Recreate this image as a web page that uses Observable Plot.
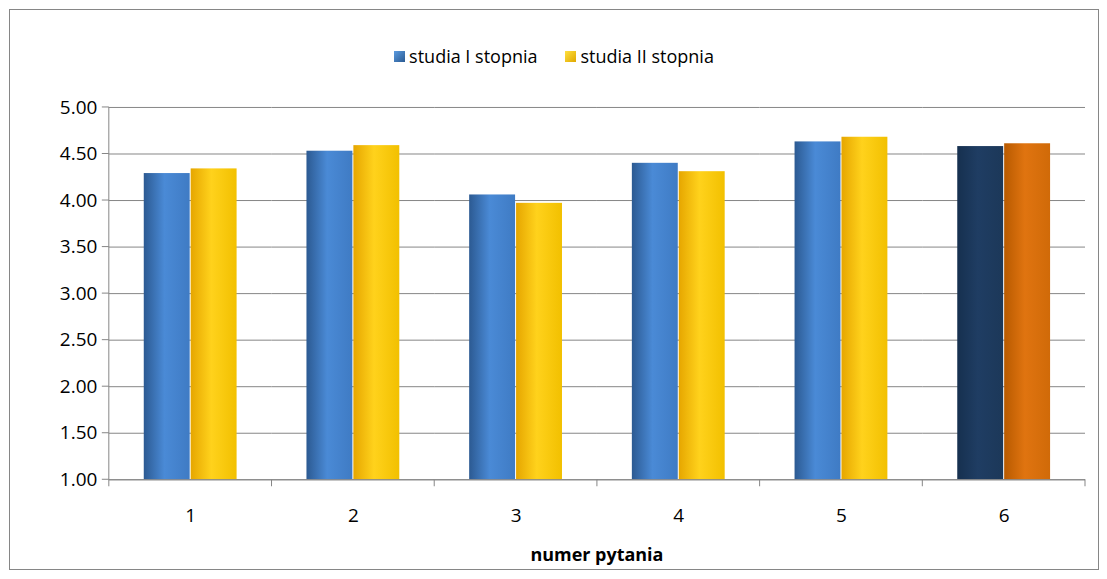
<!DOCTYPE html>
<html><head><meta charset="utf-8">
<script src="https://cdn.jsdelivr.net/npm/d3@7"></script>
<script src="https://cdn.jsdelivr.net/npm/@observablehq/plot@0.6"></script>
<style>
body{margin:0;background:#fff;font-family:"Open Sans",sans-serif;}
#frame{position:absolute;left:9px;top:9px;width:1090px;height:561px;border:1px solid #868686;box-sizing:border-box;}
#legend{position:absolute;top:34px;left:0;width:100%;text-align:center;font-size:18px;color:#000;}
.sw{display:inline-block;width:11px;height:11px;margin-right:4px;vertical-align:1px;}
#chart{position:absolute;left:0;top:80px;}
</style></head><body>
<div id="frame">
<div id="legend"><span class="sw" style="background:linear-gradient(135deg,#5b9be0,#2a5a92)"></span>studia I stopnia<span style="display:inline-block;width:28px"></span><span class="sw" style="background:linear-gradient(135deg,#ffe040,#e0a800)"></span>studia II stopnia</div>
<div id="chart"></div>
</div>
<script>
const questions = ["1","2","3","4","5","6"];
const series = ["studia I stopnia","studia II stopnia"];
const valuesI = [4.29,4.53,4.06,4.40,4.63,4.58];
const valuesII = [4.34,4.59,3.97,4.31,4.68,4.61];
const yTicks = [1,1.5,2,2.5,3,3.5,4,4.5,5];

const data = [];
questions.forEach((q,i)=>{
  data.push({q,s:series[0],v:valuesI[i]});
  data.push({q,s:series[1],v:valuesII[i]});
});
const isLast = d => d.q === questions[questions.length-1];
const common = {fx:"q", x:"s", y1:1, y2:"v"};
const H=480, MB=90, MT=17, ML=99, MR=13;
const plot = Plot.plot({
  width:1090, height:H,
  marginLeft:ML, marginRight:MR, marginTop:MT, marginBottom:MB,
  fx:{domain:questions, padding:0, axis:null},
  x:{domain:series, paddingInner:0.02, paddingOuter:0.74, axis:null},
  y:{domain:[1,5], ticks:yTicks, tickFormat:d=>d.toFixed(2), label:null, tickSize:0, tickPadding:8},
  style:{fontSize:"19px", fontFamily:"'Open Sans',sans-serif", color:"#000"},
  marks:[
    Plot.gridY(yTicks,{stroke:"#868686", strokeOpacity:1}),
    Plot.rectY(data.filter(d=>d.s===series[0]&&!isLast(d)),{...common, fill:"url(#gBlue)"}),
    Plot.rectY(data.filter(d=>d.s===series[1]&&!isLast(d)),{...common, fill:"url(#gYellow)"}),
    Plot.rectY(data.filter(d=>d.s===series[0]&&isLast(d)),{...common, fill:"url(#gNavy)"}),
    Plot.rectY(data.filter(d=>d.s===series[1]&&isLast(d)),{...common, fill:"url(#gOrange)"}),
    Plot.axisFx({anchor:"bottom", tickSize:0, tickPadding:29, label:null, fontSize:19}),
    Plot.ruleY([1],{stroke:"#868686"}),
    Plot.axisY({ticks:yTicks, tickFormat:d=>d.toFixed(2), tickSize:0, tickPadding:12, label:null, fontSize:19})
  ]
});
const ns="http://www.w3.org/2000/svg";
const defs=document.createElementNS(ns,"defs");
function grad(id,a,b,c){return `<linearGradient id="${id}" x1="0" x2="1" y1="0" y2="0"><stop offset="0" stop-color="${a}"/><stop offset="0.45" stop-color="${b}"/><stop offset="1" stop-color="${c}"/></linearGradient>`;}
defs.innerHTML = grad("gBlue","#2c5a92","#4a8ad6","#3f7bc4")+grad("gYellow","#e6a600","#ffd21c","#f2c000")+grad("gNavy","#16304f","#1f3d63","#1c3859")+grad("gOrange","#b85a00","#e07410","#d06a08");
plot.insertBefore(defs, plot.firstChild);
const xs = ML, xe = 1090-MR, yb = H-MB, yt=MT;
const g=document.createElementNS(ns,"g");
let s=`<line x1="${xs}" x2="${xs}" y1="${yt}" y2="${yb}" stroke="#868686"/>`;
for(let i=0;i<=questions.length;i++){const x=xs+(xe-xs)*i/questions.length; s+=`<line x1="${x}" x2="${x}" y1="${yb}" y2="${yb+7}" stroke="#868686"/>`;}
for(const t of yTicks){const y=yb-(yb-yt)*(t-1)/4; s+=`<line x1="${xs-7}" x2="${xs}" y1="${y}" y2="${y}" stroke="#868686"/>`;}
s+=`<text x="${(xs+xe)/2}" y="${yb+82}" text-anchor="middle" font-weight="bold" font-size="18">numer pytania</text>`;
g.innerHTML=s;
plot.appendChild(g);
document.getElementById("chart").appendChild(plot);
</script>
</body></html>
